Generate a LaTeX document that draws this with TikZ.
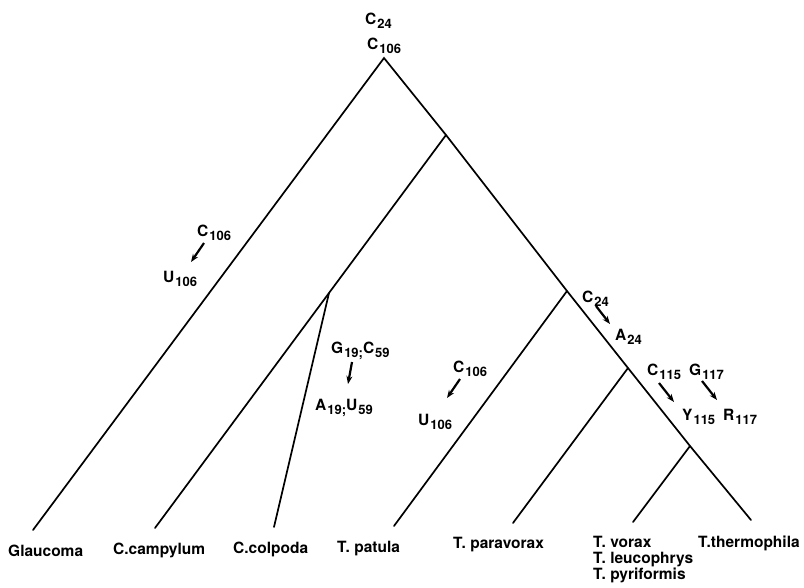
\documentclass[tikz,border=0pt]{standalone}
\usepackage{fontspec}
\setmainfont{TeX Gyre Heros}
\usetikzlibrary{arrows.meta}
\newcommand\sbs[1]{\kern1pt\raisebox{-4.5pt}{\fontsize{13}{13}\selectfont #1}}
\begin{document}
\begin{tikzpicture}[x=1pt,y=-1pt,
  branch/.style={line width=1.7pt, line cap=round},
  mutarrow/.style={line width=2.2pt, -{Stealth[length=8pt,width=6pt]}},
  species/.style={anchor=base west, inner sep=0pt, font=\fontsize{15.5}{18}\selectfont\bfseries},
  site/.style={anchor=base west, inner sep=0pt, font=\fontsize{15.5}{16}\selectfont\bfseries}]
\useasboundingbox (0,0) rectangle (804,587);

% internal nodes
\coordinate (root) at (384,58);
\coordinate (n2) at (446,135);
\coordinate (n3) at (329,293);
\coordinate (n4) at (567,291);
\coordinate (n5) at (628,368);
\coordinate (n6) at (690,446);
% tips
\coordinate (tG) at (33,530);
\coordinate (tCc) at (155,528);
\coordinate (tCo) at (274,527);
\coordinate (tTp) at (394,526);
\coordinate (tPv) at (513,523);
\coordinate (tV) at (633,522);
\coordinate (tTh) at (751,520);

\draw[branch] (tG) -- (root) -- (n2) -- (n4) -- (n5) -- (n6) -- (tTh);
\draw[branch] (n2) -- (n3) -- (tCc);
\draw[branch] (n3) -- (tCo);
\draw[branch] (n4) -- (tTp);
\draw[branch] (n5) -- (tPv);
\draw[branch] (n6) -- (tV);

% species labels
\node[species] (lG) at (8,556) {Glaucoma};
\node[species] (lCc) at (113,554) {C.campylum};
\node[species] (lCo) at (233,553) {C.colpoda};
\node[species] (lTp) at (337,552) {T. patula};
\node[species] (lPv) at (453,548) {T. paravorax};
\node[species] (lV) at (593,547) {T. vorax};
\node[species] (lL) at (593,563) {T. leucophrys};
\node[species] (lP) at (593,579) {T. pyriformis};
\node[species] (lTh) at (698,547) {T.thermophila};

% root characters
\node[site] (r1) at (365,24) {C\sbs{24}};
\node[site] (r2) at (367,49) {C\sbs{106}};

% Glaucoma branch
\node[site] (g1) at (197,236) {C\sbs{106}};
\node[site] (g2) at (163,282) {U\sbs{106}};
\coordinate (g1a) at (204,243);
\coordinate (g2a) at (191,262);
\draw[mutarrow] (g1a) -- (g2a);

% C. colpoda branch
\node[site] (c1) at (331,353) {G\sbs{19;}C\sbs{59}};
\node[site] (c2) at (315,410) {A\sbs{19;}U\sbs{59}};
\coordinate (c1a) at (352,362);
\coordinate (c2a) at (348,384);
\draw[mutarrow] (c1a) -- (c2a);

% T. patula branch
\node[site] (p1) at (453,372) {C\sbs{106}};
\node[site] (p2) at (418,425) {U\sbs{106}};
\coordinate (p1a) at (460,379);
\coordinate (p2a) at (447,398);
\draw[mutarrow] (p1a) -- (p2a);

% right branch
\node[site] (a1) at (582,302) {C\sbs{24}};
\node[site] (a2) at (615,340) {A\sbs{24}};
\coordinate (a1a) at (596,306);
\coordinate (a2a) at (610,324);
\draw[mutarrow] (a1a) -- (a2a);

\node[site] (y1) at (647,375) {C\sbs{115}};
\node[site] (y2) at (682,420) {Y\sbs{115}};
\coordinate (y1a) at (659,383);
\coordinate (y2a) at (674,402);
\draw[mutarrow] (y1a) -- (y2a);

\node[site] (q1) at (689,375) {G\sbs{117}};
\node[site] (q2) at (723,420) {R\sbs{117}};
\coordinate (q1a) at (702,381);
\coordinate (q2a) at (717,400);
\draw[mutarrow] (q1a) -- (q2a);
\end{tikzpicture}
\end{document}
